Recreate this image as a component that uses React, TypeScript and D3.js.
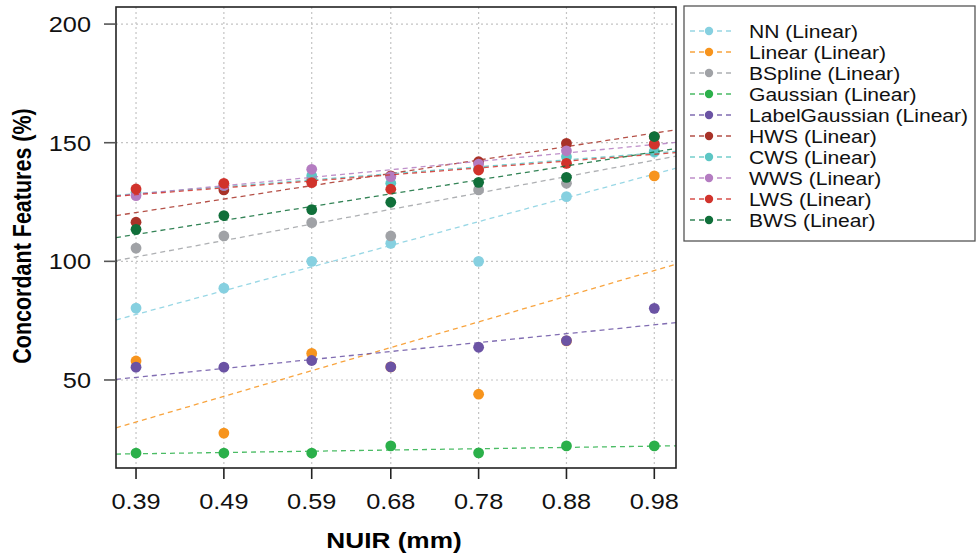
import React from "react";
import * as d3 from "d3";

const xTicks = [0.39, 0.49, 0.59, 0.68, 0.78, 0.88, 0.98];
const yTicks = [50, 100, 150, 200];

const seriesNames = [
  "NN", "Linear", "BSpline", "Gaussian", "LabelGaussian",
  "HWS", "CWS", "WWS", "LWS", "BWS",
];
const seriesColors = [
  "#86d0e0", "#f7941d", "#a0a2a6", "#2bb04a", "#6b53a4",
  "#a83228", "#5cc6c4", "#b47cc1", "#d1332c", "#106f3a",
];

const nnValues = [80.3, 88.7, 100, 107.6, 100, 127.3, 146];
const linearValues = [58, 27.6, 61.2, 55.5, 44, 66.5, 136];
const bsplineValues = [105.6, 110.7, 116.3, 110.7, 130.1, 132.9, 149.1];
const gaussianValues = [19.2, 19.2, 19.2, 22.2, 19.3, 22.2, 22.2];
const labelGaussianValues = [55.4, 55.4, 58.2, 55.5, 63.8, 66.6, 80.2];
const hwsValues = [116.5, 130.1, 134, 136, 142.0, 149.7, 152.5];
const cwsValues = [129, 132, 136, 132.9, 139, 144.1, 146.4];
const wwsValues = [127.7, 132, 138.8, 135.7, 141, 146.6, 149.5];
const lwsValues = [130.5, 132.9, 133.2, 130.4, 138.5, 141.3, 149.4];
const bwsValues = [113.5, 119.3, 121.8, 124.9, 133.3, 135.4, 152.6];

const allValues = [
  nnValues, linearValues, bsplineValues, gaussianValues, labelGaussianValues,
  hwsValues, cwsValues, wwsValues, lwsValues, bwsValues,
];

const W = 976;
const H = 554;
const plot = { left: 116, right: 676, top: 7, bottom: 468 };
const FONT = "'Liberation Sans', Arial, Helvetica, sans-serif";

function fit(xs: number[], ys: number[]) {
  const mx = d3.mean(xs) as number;
  const my = d3.mean(ys) as number;
  let sxy = 0, sxx = 0;
  xs.forEach((x, i) => {
    sxy += (x - mx) * (ys[i] - my);
    sxx += (x - mx) * (x - mx);
  });
  const b = sxy / sxx;
  return { a: my - b * mx, b };
}

function SText(props: any) {
  const { x, y, sx = 1.15, sy = 1, rotate = 0, children, ...rest } = props;
  return (
    <text
      transform={`translate(${x},${y}) rotate(${rotate}) scale(${sx},${sy})`}
      fontFamily={FONT}
      {...rest}
    >
      {children}
    </text>
  );
}

export default function App() {
  const x = d3.scaleLinear().domain([0.3672, 1.0047]).range([plot.left, plot.right]);
  const y = d3.scaleLinear().domain([12.9, 207.2]).range([plot.bottom, plot.top]);
  const [x0, x1] = x.domain();

  const line = d3
    .line<number[]>()
    .x((d) => x(d[0]))
    .y((d) => y(d[1]));

  const legendX = 684;
  const legendY = 6;
  const rowH = 21;

  return (
    <svg
      width={W}
      height={H}
      style={{ position: "absolute", left: 0, top: 0, background: "#fff" }}
    >
      <defs>
        <clipPath id="plotclip">
          <rect x={plot.left} y={plot.top} width={plot.right - plot.left} height={plot.bottom - plot.top} />
        </clipPath>
      </defs>
      {/* grid */}
      {xTicks.map((t) => (
        <line key={"gx" + t} x1={x(t)} x2={x(t)} y1={plot.top} y2={plot.bottom}
          stroke="#c4c4c4" strokeWidth={1.2} strokeDasharray="2,3" />
      ))}
      {yTicks.map((t) => (
        <line key={"gy" + t} x1={plot.left} x2={plot.right} y1={y(t)} y2={y(t)}
          stroke="#c4c4c4" strokeWidth={1.2} strokeDasharray="2,3" />
      ))}

      {/* series */}
      <g clipPath="url(#plotclip)">
        {allValues.map((vals, si) => {
          const f = fit(xTicks, vals);
          const pts = [[x0, f.a + f.b * x0], [x1, f.a + f.b * x1]];
          return (
            <g key={"s" + si}>
              {vals.map((v, i) => (
                <circle key={i} cx={x(xTicks[i])} cy={y(v)} r={5.4} fill={seriesColors[si]} />
              ))}
              <path d={line(pts) as string} fill="none" stroke={seriesColors[si]}
                strokeWidth={1.3} strokeDasharray="5,4" opacity={0.85} />
            </g>
          );
        })}
      </g>

      {/* box */}
      <rect x={plot.left} y={plot.top} width={plot.right - plot.left} height={plot.bottom - plot.top}
        fill="none" stroke="#222" strokeWidth={1.6} />

      {/* y axis ticks */}
      {yTicks.map((t) => (
        <g key={"yt" + t}>
          <line x1={plot.left - 12} x2={plot.left} y1={y(t)} y2={y(t)} stroke="#555" strokeWidth={1.6} />
          <SText x={91} y={y(t)} dy="0.36em" textAnchor="end" fontSize={22} fill="#111">
            {t}
          </SText>
        </g>
      ))}
      {/* x axis ticks */}
      {xTicks.map((t) => (
        <g key={"xt" + t}>
          <line x1={x(t)} x2={x(t)} y1={plot.bottom} y2={plot.bottom + 11} stroke="#222" strokeWidth={1.6} />
          <SText x={x(t)} y={501} dy="0.36em" textAnchor="middle" fontSize={22} fill="#111">
            {t.toFixed(2)}
          </SText>
        </g>
      ))}

      {/* axis titles */}
      <SText x={394} y={540} dy="0.36em" textAnchor="middle" fontSize={21.5} fontWeight="bold" sx={1.22} fill="#000">
        NUIR (mm)
      </SText>
      <SText x={22} y={236} dy="0.36em" textAnchor="middle" fontSize={21.5} fontWeight="bold"
        rotate={-90} sx={1} sy={1.2} fill="#000">
        Concordant Features (%)
      </SText>

      {/* legend */}
      <rect x={legendX} y={legendY} width={975 - legendX} height={241 - legendY}
        fill="#fff" stroke="#555" strokeWidth={1.3} />
      {seriesNames.map((name, i) => {
        const cy = 31 + i * rowH;
        return (
          <g key={"lg" + i}>
            <line x1={690} x2={731} y1={cy} y2={cy} stroke={seriesColors[i]} strokeWidth={1.3}
              strokeDasharray="5,4" opacity={0.85} />
            <circle cx={709} cy={cy} r={4.2} fill={seriesColors[i]} />
            <SText x={749} y={cy} dy="0.36em" fontSize={18.5} sx={1.14} fill="#111">
              {name} (Linear)
            </SText>
          </g>
        );
      })}
    </svg>
  );
}
